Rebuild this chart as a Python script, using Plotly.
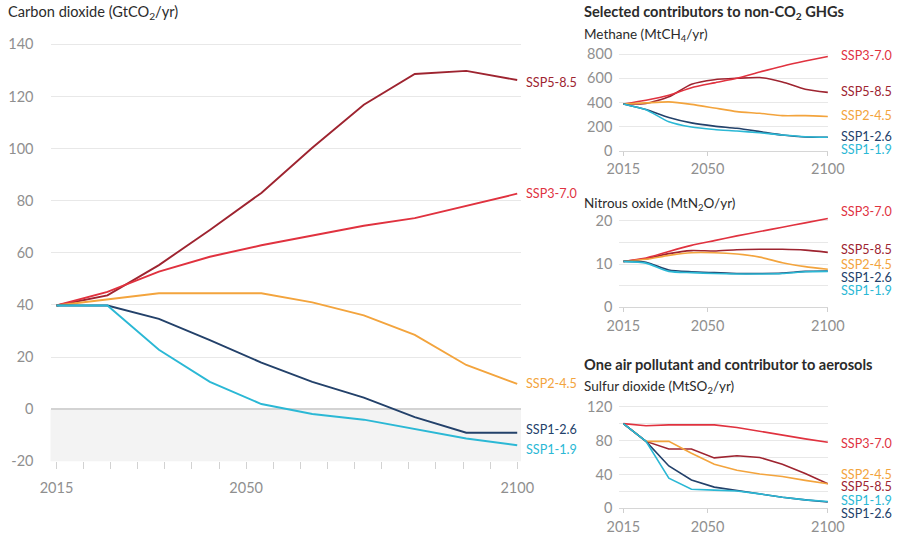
import plotly.graph_objects as go

# ---------------- data ----------------
years = [2015, 2024.4, 2033.9, 2043.3, 2052.8, 2062.2, 2071.7, 2081.1, 2090.6, 2100]
scenarios = ["SSP1-1.9", "SSP1-2.6", "SSP2-4.5", "SSP3-7.0", "SSP5-8.5"]

co2_ssp119 = [39.8, 39.8, 22.8, 10.5, 2.0, -1.8, -4.0, -7.5, -11.2, -13.8]
co2_ssp126 = [39.8, 39.8, 34.7, 26.5, 17.9, 10.5, 4.5, -3.0, -9.0, -9.0]
co2_ssp245 = [39.8, 42.0, 44.5, 44.5, 44.5, 41.0, 36.0, 28.5, 17.0, 9.7]
co2_ssp370 = [39.8, 45.0, 52.8, 58.5, 62.9, 66.6, 70.4, 73.3, 77.9, 82.7]
co2_ssp585 = [39.8, 43.7, 55.3, 68.8, 83.0, 100.3, 116.8, 128.6, 129.8, 126.3]

ch4_ssp119 = [388, 340, 241, 198, 178, 165, 150, 132, 118, 113]
ch4_ssp126 = [388, 342, 277, 232, 205, 187, 160, 132, 115, 113]
ch4_ssp245 = [388, 397, 405, 385, 355, 325, 311, 292, 292, 285]
ch4_ssp370 = [388, 419, 460, 522, 562, 600, 652, 700, 742, 780]
ch4_ssp585 = [388, 392, 447, 550, 588, 600, 606, 570, 510, 484]

n2o_ssp119 = [10.6, 10.2, 8.3, 8.0, 7.8, 7.7, 7.7, 7.8, 8.2, 8.3]
n2o_ssp126 = [10.6, 10.4, 8.6, 8.2, 8.0, 7.8, 7.8, 7.9, 8.3, 8.4]
n2o_ssp245 = [10.6, 11.1, 12.0, 12.6, 12.6, 12.3, 11.6, 10.3, 9.4, 8.8]
n2o_ssp370 = [10.6, 11.4, 12.9, 14.3, 15.4, 16.5, 17.5, 18.5, 19.5, 20.5]
n2o_ssp585 = [10.6, 11.2, 12.4, 13.1, 13.0, 13.3, 13.4, 13.4, 13.2, 12.7]

so2_ssp119 = [100, 79, 35.5, 22.5, 21.5, 20.5, 17, 13, 10, 8]
so2_ssp126 = [100, 79, 50, 33.5, 25, 21, 17, 13, 10, 7.5]
so2_ssp245 = [100, 79, 79, 65, 52, 45, 40.5, 37.5, 33, 29]
so2_ssp370 = [100, 97.5, 98.5, 98.5, 98.5, 95.5, 91, 86, 82, 78]
so2_ssp585 = [100, 79, 70, 70, 59.5, 62, 60, 52, 41, 29]

x_tick_years = [2015, 2050, 2100]
co2_ticks = [-20, 0, 20, 40, 60, 80, 100, 120, 140]
co2_ticktext = ["-20", "0", "20", "40", "60", "80", "100", "120", "140"]
ch4_ticks = [0, 200, 400, 600, 800]
n2o_ticks = [0, 10, 20]
so2_ticks = [0, 40, 80, 120]

# label anchor values (data units) for the end-of-line scenario labels
co2_label_y = [-15.6, -7.7, 9.8, 82.6, 125.3]
ch4_label_y = [15, 123, 289, 792, 495]
n2o_label_y = [3.9, 7.0, 10.0, 22.1, 13.4]
so2_label_y = [9.5, -6.0, 40.0, 76.8, 25.3]

colors = {
    "SSP1-1.9": "#2bb8d5",
    "SSP1-2.6": "#23416a",
    "SSP2-4.5": "#f3a43d",
    "SSP3-7.0": "#e0323f",
    "SSP5-8.5": "#9e2430",
}

FONT = "Lato, 'Open Sans', sans-serif"
TICK_COLOR = "#8f8f8f"
GRID = "#e8e8e8"
W, H = 903, 534


def px2fx(p):
    return p / W


def py2fy(p):
    return 1 - p / H


# axis geometry
main_xdom = [px2fx(50.5), px2fx(521)]
main_xrange = [2013.9, 2100.7]
main_ydom = [py2fy(461.4), py2fy(39.1)]
main_yrange = [-20, 142]
small_xdom = [px2fx(619.3), px2fx(828.3)]
small_xrange = [2013.3, 2100.2]
ch4_ydom, ch4_yrange = [py2fy(151), py2fy(50.4)], [0, 830]
n2o_ydom, n2o_yrange = [py2fy(307.3), py2fy(216.4)], [0, 21]
so2_ydom, so2_yrange = [py2fy(508.3), py2fy(403.3)], [0, 124]


def to_paper(v, dom, rng):
    return dom[0] + (v - rng[0]) / (rng[1] - rng[0]) * (dom[1] - dom[0])


fig = go.Figure()

panels = [
    ("x", "y", [co2_ssp119, co2_ssp126, co2_ssp245, co2_ssp370, co2_ssp585], co2_label_y,
     1.9, "linear", main_xdom, main_xrange, main_ydom, main_yrange, 8),
    ("x2", "y2", [ch4_ssp119, ch4_ssp126, ch4_ssp245, ch4_ssp370, ch4_ssp585], ch4_label_y,
     1.6, "spline", small_xdom, small_xrange, ch4_ydom, ch4_yrange, 12),
    ("x3", "y3", [n2o_ssp119, n2o_ssp126, n2o_ssp245, n2o_ssp370, n2o_ssp585], n2o_label_y,
     1.6, "spline", small_xdom, small_xrange, n2o_ydom, n2o_yrange, 12),
    ("x4", "y4", [so2_ssp119, so2_ssp126, so2_ssp245, so2_ssp370, so2_ssp585], so2_label_y,
     1.6, "linear", small_xdom, small_xrange, so2_ydom, so2_yrange, 12),
]

annotations = []
draw_order = [4, 3, 2, 1, 0]
for xa, ya, series, label_y, lw, shape, xdom, xrng, ydom, yrng, xshift in panels:
    for i in draw_order:
        name = scenarios[i]
        line = dict(color=colors[name], width=lw, shape=shape)
        if shape == "spline":
            line["smoothing"] = 0.6
        fig.add_trace(go.Scatter(x=years, y=series[i], mode="lines", line=line,
                                 xaxis=xa, yaxis=ya, showlegend=False, hoverinfo="skip"))
    for i, name in enumerate(scenarios):
        annotations.append(dict(
            x=to_paper(years[-1], xdom, xrng), y=to_paper(label_y[i], ydom, yrng),
            xref="paper", yref="paper", text=name, showarrow=False,
            xanchor="left", yanchor="middle", xshift=xshift, borderpad=0,
            font=dict(family=FONT, size=12.6, color=colors[name])))

# titles
titles = [
    ("Carbon dioxide (GtCO<sub>2</sub>/yr)", 6, 13, False, 14.6),
    ("Selected contributors to non-CO<sub>2</sub> GHGs", 582, 13, True, 14.6),
    ("Methane (MtCH<sub>4</sub>/yr)", 582, 35, False, 13.5),
    ("Nitrous oxide (MtN<sub>2</sub>O/yr)", 582, 204, False, 13.5),
    ("One air pollutant and contributor to aerosols", 582, 364, True, 14.6),
    ("Sulfur dioxide (MtSO<sub>2</sub>/yr)", 582, 387, False, 13.5),
]
for text, xp, yp, bold, fs in titles:
    annotations.append(dict(
        x=px2fx(xp), y=py2fy(yp), xref="paper", yref="paper", showarrow=False,
        text=f"<b>{text}</b>" if bold else text, xanchor="left", yanchor="middle",
        font=dict(family=FONT, size=fs, color="#2b2b2b")))

# negative-emissions shading
fig.add_shape(type="rect", xref="x domain", yref="y", x0=0, x1=1, y0=-20, y1=0,
              fillcolor="#f3f3f3", line=dict(width=0), layer="below")

tickfont = dict(family=FONT, size=14.5, color=TICK_COLOR)

layout = dict(
    width=W, height=H, margin=dict(l=0, r=0, t=0, b=0, autoexpand=False),
    paper_bgcolor="white", plot_bgcolor="white",
    font=dict(family=FONT),
    annotations=annotations,
    xaxis=dict(domain=main_xdom, range=main_xrange, automargin=False,
               tickvals=x_tick_years, ticks="outside", ticklen=7, tickcolor="#d2d2d2",
               minor=dict(ticks="outside", dtick=5, tick0=2015, ticklen=7, tickcolor="#d2d2d2"),
               showgrid=False, zeroline=False, showline=False,
               tickfont=tickfont, ticklabelstandoff=6),
    yaxis=dict(domain=main_ydom, range=main_yrange, automargin=False,
               tickvals=co2_ticks, ticktext=co2_ticktext, showgrid=True, gridcolor=GRID,
               gridwidth=1, zeroline=True, zerolinecolor="#d3d3d3", zerolinewidth=2,
               showline=False, ticks="", tickfont=tickfont, ticklabelstandoff=16),
)

small = [
    ("xaxis2", "yaxis2", ch4_ydom, ch4_yrange, ch4_ticks, None),
    ("xaxis3", "yaxis3", n2o_ydom, n2o_yrange, n2o_ticks, 5),
    ("xaxis4", "yaxis4", so2_ydom, so2_yrange, so2_ticks, 20),
]
for k, (xk, yk, ydom, yr, yt, minor_step) in enumerate(small):
    n = k + 2
    layout[xk] = dict(domain=small_xdom, range=small_xrange,
                      anchor=f"y{n}", tickvals=x_tick_years, ticks="outside", ticklen=4,
                      tickcolor="#cfcfcf", showgrid=False, zeroline=False, showline=True,
                      linecolor="#d6d6d6", linewidth=1, tickfont=tickfont, automargin=False,
                      ticklabelstandoff=1)
    ydict = dict(domain=ydom, range=yr, anchor=f"x{n}", tickvals=yt, automargin=False,
                 showgrid=True, gridcolor=GRID, zeroline=False, showline=False,
                 ticks="", tickfont=tickfont, ticklabelstandoff=6)
    if minor_step:
        ydict["minor"] = dict(showgrid=True, gridcolor=GRID, dtick=minor_step, tick0=0)
    layout[yk] = ydict

fig.update_layout(**layout)
fig.write_html("out.html", config={"displayModeBar": False},
               post_script="document.body.style.margin='0';document.body.style.overflow='hidden';")
